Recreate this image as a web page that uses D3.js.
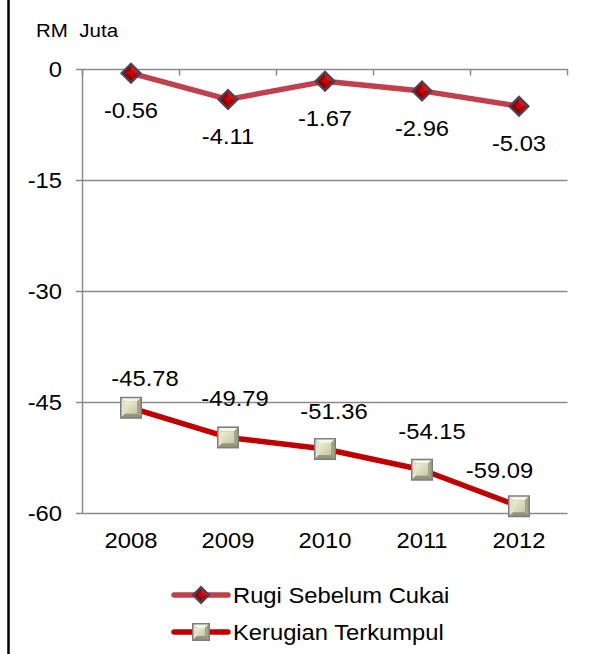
<!DOCTYPE html>
<html>
<head>
<meta charset="utf-8">
<script src="https://cdn.jsdelivr.net/npm/d3@7"></script>
<style>
  html, body { margin: 0; padding: 0; background: #fff; }
  svg { display: block; }
  text { font-family: "Liberation Sans", Arial, sans-serif; fill: #000; }
</style>
</head>
<body>
<svg id="chart" width="608" height="654"></svg>
<script>
// ---- data ----
const years = ["2008", "2009", "2010", "2011", "2012"];
const rugiSebelumCukai = [-0.56, -4.11, -1.67, -2.96, -5.03];
const kerugianTerkumpul = [-45.78, -49.79, -51.36, -54.15, -59.09];
const yTicks = [0, -15, -30, -45, -60];
const seriesNames = ["Rugi Sebelum Cukai", "Kerugian Terkumpul"];
const unitLabel = "RM  Juta";

// ---- styles / layout ----
const TXT = 22, SX = 1.08;
const gridColor = "#8a8a8a";
const c1 = "#C0404D", c2 = "#C00000";
const labelShift2 = [[14, -22], [7, -31], [9, -30], [10, -30.5], [-19.5, -28]];

const svg = d3.select("#chart");

const x = d3.scaleBand().domain(years).range([82.5, 567.5]).padding(0);
const cx = d => x(d) + x.bandwidth() / 2;
const y = d3.scaleLinear().domain([-60, 0]).range([513, 69]);

// left black border line
svg.append("line").attr("x1", 8.5).attr("x2", 8.5).attr("y1", 0).attr("y2", 654)
  .attr("stroke", "#000").attr("stroke-width", 2.5);

// unit label
svg.append("text").attr("transform", `translate(36,37) scale(${SX},1)`)
  .attr("font-size", 19).style("white-space", "pre").text(unitLabel);

// y axis via d3 axis (gridlines)
const yAxis = d3.axisLeft(y).tickValues(yTicks).tickSize(-(567.5 - 82.5)).tickFormat("");
const yg = svg.append("g").attr("transform", "translate(82.5,0)").call(yAxis);
yg.select(".domain").remove();
yg.selectAll(".tick line").attr("stroke", gridColor).attr("stroke-width", 1.5)
  .attr("x1", -6.5);

// vertical axis line
svg.append("line").attr("x1", 82.5).attr("x2", 82.5).attr("y1", y(0)).attr("y2", y(-60))
  .attr("stroke", gridColor).attr("stroke-width", 1.5);

// y tick labels
svg.append("g").selectAll("text").data(yTicks).join("text")
  .attr("transform", d => `translate(62,${y(d) + 8}) scale(${SX},1)`)
  .attr("text-anchor", "end").attr("font-size", TXT).text(d => d);

// x-axis tick marks at y=0 (pointing down), at category boundaries
const bounds = years.map(d => x(d)).concat([x(years[years.length - 1]) + x.bandwidth()]);
svg.append("g").selectAll("line").data(bounds).join("line")
  .attr("x1", d => d).attr("x2", d => d).attr("y1", y(0)).attr("y2", y(0) + 6.5)
  .attr("stroke", gridColor).attr("stroke-width", 1.5);

// x category labels (low position)
svg.append("g").selectAll("text").data(years).join("text")
  .attr("transform", d => `translate(${cx(d)},548) scale(${SX},1)`)
  .attr("text-anchor", "middle").attr("font-size", TXT).text(d => d);

// ---- markers ----
function diamond(g, s) {
  const h = s / 2;
  g.append("path").attr("d", `M0,${-h}L${h},0L0,${h}L${-h},0Z`).attr("fill", "#4a4459");
  const i = h - 3.2;
  // facets
  g.append("path").attr("d", `M0,${-i}L${i},0L0,0Z`).attr("fill", "#d41414");
  g.append("path").attr("d", `M0,${-i}L${-i},0L0,0Z`).attr("fill", "#a00000");
  g.append("path").attr("d", `M${-i},0L0,${i}L0,0Z`).attr("fill", "#8a0000");
  g.append("path").attr("d", `M${i},0L0,${i}L0,0Z`).attr("fill", "#b00000");
  const k = i * 0.45;
  g.append("path").attr("d", `M0,${-k}L${k},0L0,${k}L${-k},0Z`).attr("fill", "#c80808");
}
function square(g, s) {
  const h = s / 2;
  g.append("rect").attr("x", -h).attr("y", -h).attr("width", s).attr("height", s).attr("fill", "#7c7c7c");
  const i = h - 1.5, k = i - 3.5;
  g.append("path").attr("d", `M${-i},${-i}L${i},${-i}L${k},${-k}L${-k},${-k}Z`).attr("fill", "#f6f6e6");
  g.append("path").attr("d", `M${-i},${-i}L${-k},${-k}L${-k},${k}L${-i},${i}Z`).attr("fill", "#e4e4c8");
  g.append("path").attr("d", `M${i},${-i}L${i},${i}L${k},${k}L${k},${-k}Z`).attr("fill", "#a4a48a");
  g.append("path").attr("d", `M${-i},${i}L${i},${i}L${k},${k}L${-k},${k}Z`).attr("fill", "#94947a");
  const grad = "url(#sqc)";
  g.append("rect").attr("x", -k).attr("y", -k).attr("width", 2 * k).attr("height", 2 * k).attr("fill", grad);
}
const defs = svg.append("defs");
const lg = defs.append("linearGradient").attr("id", "sqc").attr("x1", 0).attr("y1", 0).attr("x2", 1).attr("y2", 1);
lg.append("stop").attr("offset", 0).attr("stop-color", "#eeeed2");
lg.append("stop").attr("offset", 1).attr("stop-color", "#c8c8a4");

// ---- lines ----
const line = d3.line().x((d, i) => cx(years[i])).y(d => y(d));
svg.append("path").datum(rugiSebelumCukai).attr("d", line)
  .attr("fill", "none").attr("stroke", c1).attr("stroke-width", 5.5).attr("stroke-linejoin", "round");
svg.append("path").datum(kerugianTerkumpul).attr("d", line)
  .attr("fill", "none").attr("stroke", c2).attr("stroke-width", 5.5).attr("stroke-linejoin", "round");

svg.append("g").selectAll("g").data(rugiSebelumCukai).join("g")
  .attr("transform", (d, i) => `translate(${cx(years[i])},${y(d)})`)
  .each(function () { diamond(d3.select(this), 22); });
svg.append("g").selectAll("g").data(kerugianTerkumpul).join("g")
  .attr("transform", (d, i) => `translate(${cx(years[i])},${y(d)})`)
  .each(function () { square(d3.select(this), 22); });

// ---- data labels ----
svg.append("g").selectAll("text").data(rugiSebelumCukai).join("text")
  .attr("transform", (d, i) => `translate(${cx(years[i])},${y(d) + 45}) scale(${SX},1)`)
  .attr("text-anchor", "middle").attr("font-size", TXT).text(d => d.toFixed(2));
svg.append("g").selectAll("text").data(kerugianTerkumpul).join("text")
  .attr("transform", (d, i) => `translate(${cx(years[i]) + labelShift2[i][0]},${y(d) + labelShift2[i][1]}) scale(${SX},1)`)
  .attr("text-anchor", "middle").attr("font-size", TXT).text(d => d.toFixed(2));

// ---- legend ----
const legendRows = [
  { name: seriesNames[0], color: c1, mk: diamond, size: 19, y: 595 },
  { name: seriesNames[1], color: c2, mk: square, size: 18, y: 632 }
];
const leg = svg.append("g");
legendRows.forEach(r => {
  leg.append("line").attr("x1", 174).attr("x2", 228).attr("y1", r.y).attr("y2", r.y)
    .attr("stroke", r.color).attr("stroke-width", 5.5).attr("stroke-linecap", "round");
  const m = leg.append("g").attr("transform", `translate(201,${r.y})`);
  r.mk(m, r.size);
  leg.append("text").attr("transform", `translate(233,${r.y + 8}) scale(${SX},1)`)
    .attr("font-size", TXT).text(r.name);
});
</script>
</body>
</html>
